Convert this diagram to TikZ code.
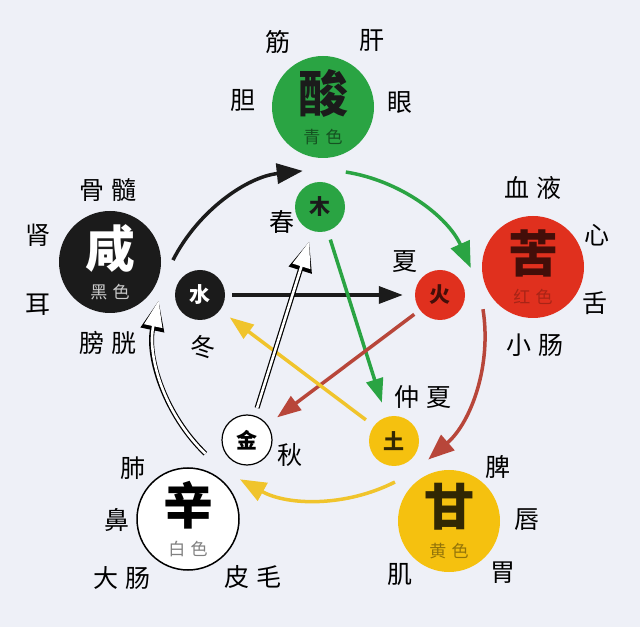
\documentclass[tikz,border=0pt]{standalone}
\usepackage{fontspec}
\setmainfont{Noto Sans CJK SC}
\usetikzlibrary{arrows.meta}

\definecolor{paper}{HTML}{EEF0F7}
\definecolor{wood}{HTML}{2AA443}
\definecolor{fire}{HTML}{E0301E}
\definecolor{earth}{HTML}{F5C10F}
\definecolor{water}{HTML}{1B1B1B}
\definecolor{firearc}{HTML}{B8463A}
\definecolor{eartharc}{HTML}{F0C42C}

\def\rout{165}
\def\gap{\hspace{.3em}}
\def\fsize#1{\fontsize{#1}{#1}\selectfont}

\begin{document}
\begin{tikzpicture}[x=1pt,y=1pt,
    bigball/.style={circle,minimum size=102pt,inner sep=0pt},
    smallball/.style={circle,minimum size=50pt,inner sep=0pt,font=\fsize{21}\bfseries},
    taste/.style={font=\fsize{50}\bfseries},
    tint/.style={font=\fsize{17}},
    organ/.style={font=\fsize{25}},
    cyclearrow/.style={line width=3.5pt,-{Triangle[length=26pt,width=20pt]}},
    stararrow/.style={line width=3.5pt,-{Triangle[length=24pt,width=17pt]},
      shorten <=7pt,shorten >=12pt},
    hollow/.style={preaction={draw=black,line width=5pt,-{Triangle[length=30pt,width=23pt]}},
      draw=white,line width=2.6pt,-{Triangle[length=26pt,width=18pt]}}
    ]
    \fill[paper] (0,0) rectangle (640,627);
    \useasboundingbox (0,0) rectangle (640,627);

    % big balls (tastes)
    \node[bigball,fill=wood] (suan) at (323,520) {};
    \node[taste,text=water] (suanT) at ([yshift=14pt]suan.center) {酸};
    \node[tint,text=wood!50!black] (suanC) at ([yshift=-30pt]suan.center) {青\gap 色};

    \node[bigball,fill=fire] (ku) at (533,360) {};
    \node[taste,text=fire!30!black] (kuT) at ([yshift=14pt]ku.center) {苦};
    \node[tint,text=fire!75!black] (kuC) at ([yshift=-30pt]ku.center) {红\gap 色};

    \node[bigball,fill=earth] (gan) at (449,106) {};
    \node[taste,text=earth!20!black] (ganT) at ([yshift=14pt]gan.center) {甘};
    \node[tint,text=earth!60!black] (ganC) at ([yshift=-30pt]gan.center) {黄\gap 色};

    \node[bigball,fill=white,draw=black,line width=1.5pt] (xin) at (188,108) {};
    \node[taste] (xinT) at ([yshift=14pt]xin.center) {辛};
    \node[tint,text=black!50] (xinC) at ([yshift=-30pt]xin.center) {白\gap 色};

    \node[bigball,fill=water] (xian) at (110,365) {};
    \node[taste,text=white] (xianT) at ([yshift=14pt]xian.center) {咸};
    \node[tint,text=black!20] (xianC) at ([yshift=-30pt]xian.center) {黑\gap 色};

    % small balls (elements)
    \node[smallball,fill=wood,text=water] (mu) at (320,420) {木};
    \node[smallball,fill=fire,text=fire!30!black] (huo) at (440,332) {火};
    \node[smallball,fill=earth,text=earth!20!black] (tu) at (394,186) {土};
    \node[smallball,fill=white,draw=black,line width=1.2pt] (jin) at (247,187) {金};
    \node[smallball,fill=water,text=white] (shui) at (200,332) {水};

    % outer cycle
    \coordinate (hub) at (320,292);
    \draw[cyclearrow,water] ([shift={(153:\rout)}]hub) arc[start angle=153,end angle=96,radius=\rout];
    \draw[cyclearrow,wood] ([shift={(81:\rout)}]hub) arc[start angle=81,end angle=24,radius=\rout];
    \draw[cyclearrow,firearc] ([shift={(9:\rout)}]hub) arc[start angle=9,end angle=-49,radius=\rout];
    \draw[cyclearrow,eartharc] ([shift={(-63:\rout)}]hub) arc[start angle=-63,end angle=-119,radius=\rout];
    \draw[hollow] ([shift={(-134:\rout)}]hub) arc[start angle=-134,end angle=-192,radius=\rout];

    % inner star
    \draw[stararrow,water] (shui) -- (huo);
    \draw[stararrow,wood,shorten <=9pt,shorten >=15pt] (mu) -- (tu);
    \draw[stararrow,firearc] (huo) -- (jin);
    \draw[stararrow,eartharc,shorten <=10pt] (tu) -- (shui);
    \draw[hollow,shorten <=8pt,shorten >=11pt] (jin) -- (mu);

    % seasons
    \foreach \t / \x / \y [count=\i] in {春/282/405, 夏/405/365, 仲\gap 夏/423/230,
      秋/290/172, 冬/203/280} {
      \node[organ] (season\i) at (\x,\y) {\t};
    }

    % organs
    \foreach \t / \x / \y [count=\i] in {筋/278/585, 肝/372/587, 胆/243/527, 眼/400/524,
      骨\gap 髓/108/437, 肾/38/392, 耳/38/322, 膀\gap 胱/108/284,
      血\gap 液/533/439, 心/597/392, 舌/595/324, 小\gap 肠/535/282,
      肺/133/159, 鼻/117/107, 大\gap 肠/122/49, 皮\gap 毛/253/50,
      脾/498/160, 唇/527/107, 胃/503/54, 肌/400/52} {
      \node[organ] (organ\i) at (\x,\y) {\t};
    }
\end{tikzpicture}
\end{document}
